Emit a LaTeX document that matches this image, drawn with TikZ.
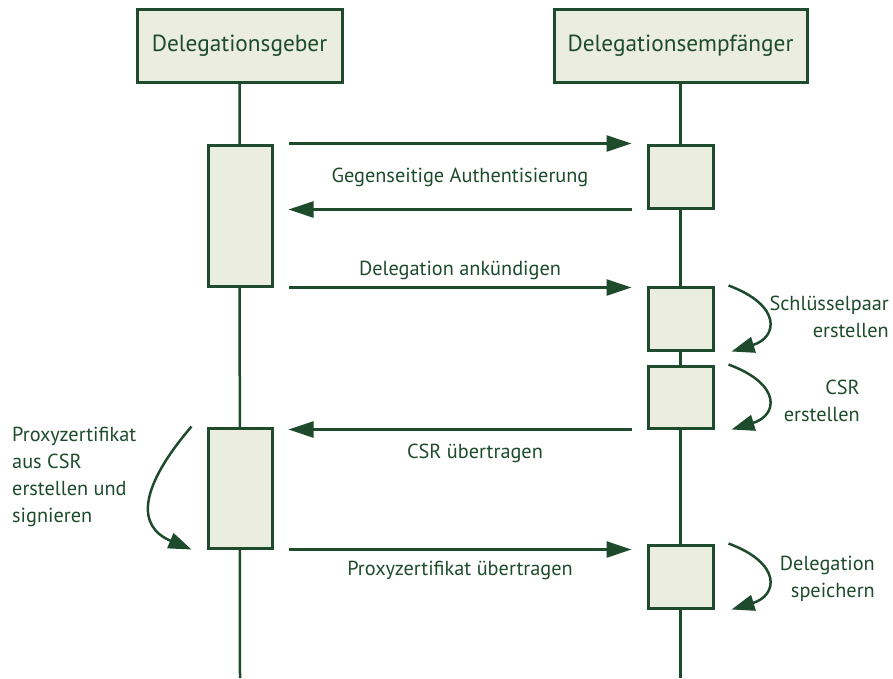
\documentclass[tikz,border=0pt]{standalone}
\usepackage{fontspec}
\setmainfont{PT Sans}
\usetikzlibrary{arrows.meta,calc}
\definecolor{ink}{HTML}{1D4B2C}
\definecolor{paper}{HTML}{EBEEDE}
\begin{document}
\begin{tikzpicture}[x=1pt,y=-1pt,
  every node/.style={text=ink},
  header/.style={draw=ink,fill=paper,line width=3pt,inner sep=0pt,
    minimum height=73pt,font=\fontsize{23.3}{27}\selectfont},
  actbox/.style={draw=ink,fill=paper,line width=3pt,inner sep=0pt},
  lifeline/.style={draw=ink,line width=2.5pt},
  msg/.style={draw=ink,line width=2.5pt,shorten <=15pt,shorten >=15pt,
    -{Triangle[length=25pt,width=16pt]}},
  selfmsg/.style={draw=ink,line width=2.5pt,-{Triangle[length=23pt,width=16pt]}},
  lbl/.style={font=\fontsize{20.3}{27}\selectfont,inner sep=0pt}]
\useasboundingbox (0,0) rectangle (893,678);

% participants
\node[header,minimum width=205pt] (geber) at (239.5,45.5) {Delegationsgeber};
\node[header,minimum width=253pt] (empf) at (680.5,45.5) {Delegationsempfänger};

% lifelines
\coordinate (gend) at (240,678);
\coordinate (eend) at (680.5,678);
\draw[lifeline] (geber.south) -- (gend);
\draw[lifeline] (empf.south) -- (eend);

% activation boxes
\node[actbox,minimum width=64pt,minimum height=141pt] (a1) at (240,215.5) {};
\node[actbox,minimum width=64pt,minimum height=120pt] (a2) at (240,488) {};
\node[actbox,minimum width=65pt,minimum height=63pt] (b1) at (680.5,176.5) {};
\node[actbox,minimum width=65pt,minimum height=63pt] (b2) at (680.5,318.5) {};
\node[actbox,minimum width=65pt,minimum height=62pt] (b3) at (680.5,397) {};
\node[actbox,minimum width=65pt,minimum height=63pt] (b4) at (680.5,576.5) {};

% messages
\draw[msg] (a1.north east) -- (b1.north west);
\draw[msg] (b1.south west) -- (b1.south west -| a1.east);
\draw[msg] (a1.south east) -- (a1.south east -| b2.west);
\draw[msg] (b3.south west) -- (b3.south west -| a2.east);
\draw[msg] (a2.south east) -- (a2.south east -| b4.west);

\node[lbl] (m1) at (460,177) {Gegenseitige Authentisierung};
\node[lbl] (m2) at (460,270) {Delegation ankündigen};
\node[lbl] (m3) at (475,453) {CSR übertragen};
\node[lbl] (m4) at (460,570) {Proxyzertifikat übertragen};

% local steps
\draw[selfmsg] ($(b2.north east)+(14,0)$) .. controls +(54,20) and +(46,-14) .. ($(b2.south east)+(17,0)$);
\draw[selfmsg] ($(b3.north east)+(14,0)$) .. controls +(54,20) and +(46,-14) .. ($(b3.south east)+(17,0)$);
\draw[selfmsg] ($(b4.north east)+(14,0)$) .. controls +(54,20) and +(46,-14) .. ($(b4.south east)+(17,0)$);
\draw[selfmsg] ($(a2.north west)+(-15,0)$) .. controls +(-53,62) and +(-55,-23) .. ($(a2.south west)+(-15,0)$);

\node[lbl,align=right,anchor=east] (s1) at (889,316.5) {Schlüsselpaar\\erstellen};
\node[lbl,align=right,anchor=east] (s2) at (860,401) {CSR\\erstellen};
\node[lbl,align=right,anchor=east] (s3) at (875,579) {Delegation\\speichern};
\node[lbl,align=left,anchor=west] (s4) at (12,477) {Proxyzertifikat\\aus CSR\\erstellen und\\signieren};
\end{tikzpicture}
\end{document}
